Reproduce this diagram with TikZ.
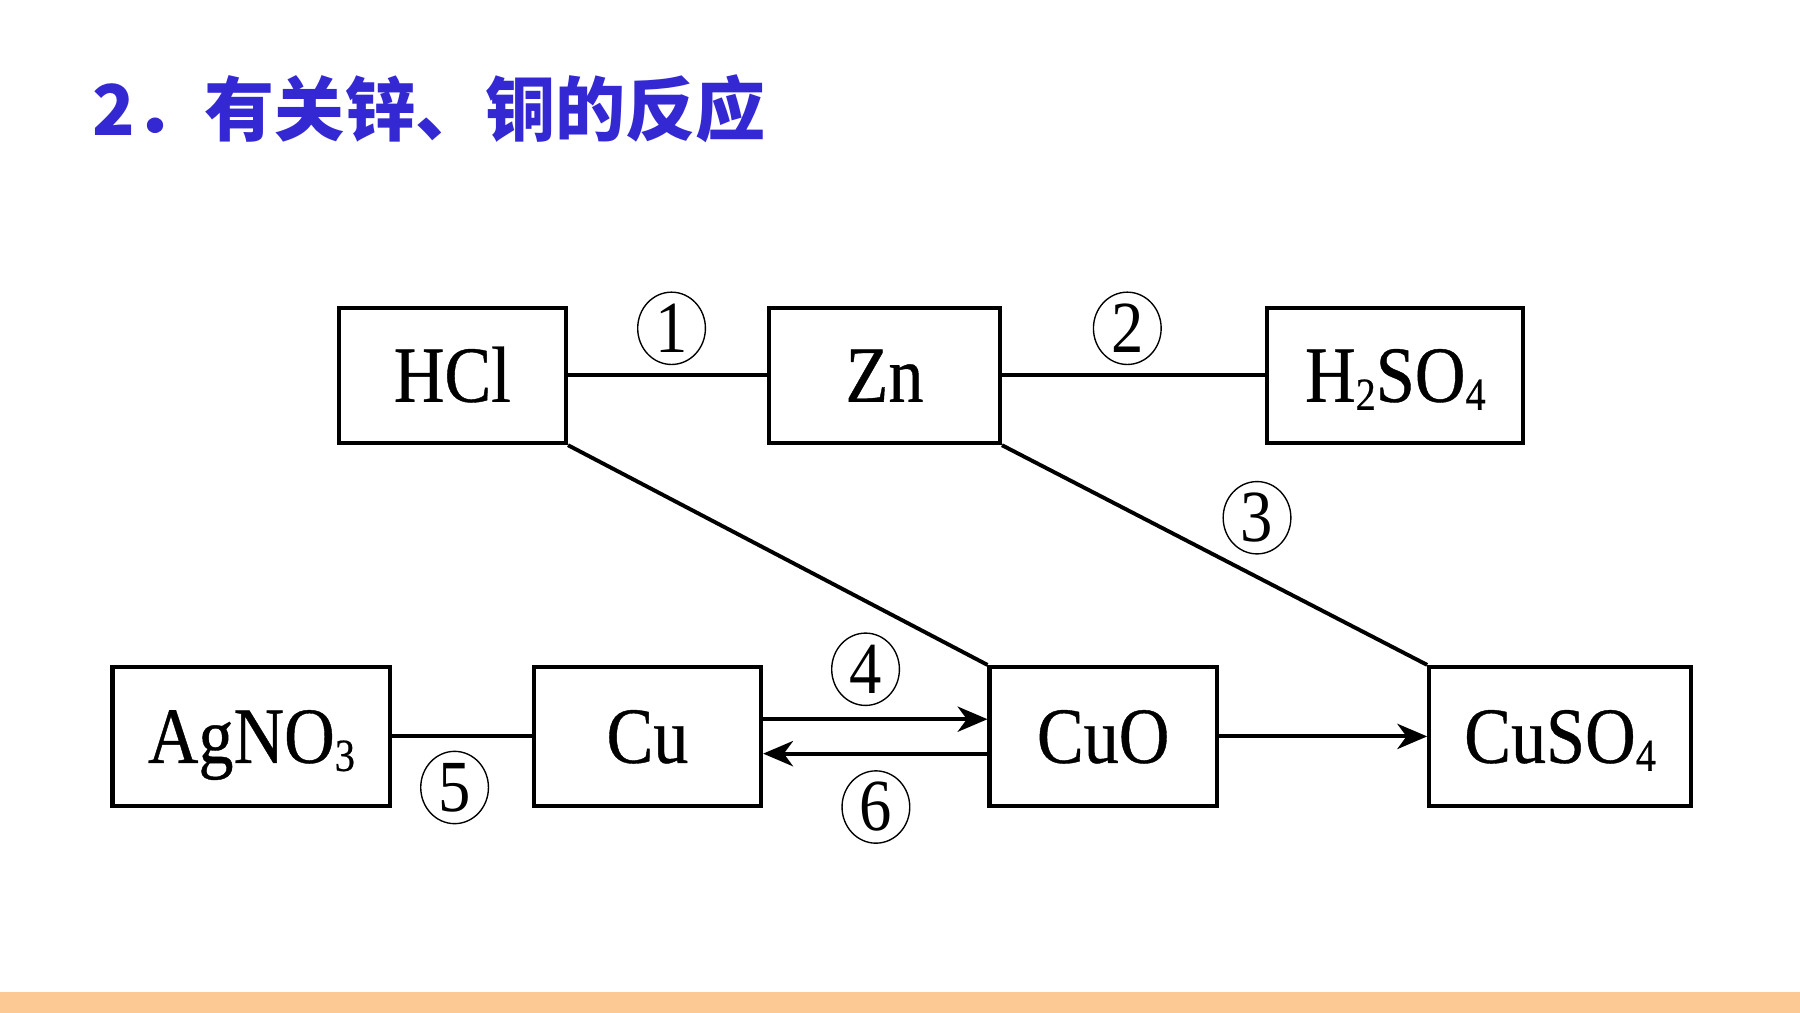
\documentclass[tikz,border=0pt]{standalone}
\usepackage{fontspec}
\usetikzlibrary{shapes.geometric,arrows.meta}
\newfontfamily\chemfont{Liberation Serif}[FakeStretch=0.88,FakeBold=0.5]
\newfontfamily\digfont{Liberation Serif}[FakeStretch=0.88]
\newfontfamily\cjkfont{Noto Sans CJK SC}
\definecolor{titleblue}{RGB}{51,40,210}
\definecolor{barorange}{RGB}{252,201,148}
\newcommand{\chsub}[1]{\raisebox{-3.5pt}{\fontsize{20pt}{20pt}\selectfont #1}}
\begin{document}
\begin{tikzpicture}[x=0.5pt,y=-0.5pt,
 box/.style={draw,line width=1.8pt,minimum height=59pt,inner sep=0pt,
   font=\chemfont\fontsize{34.7pt}{36pt}\selectfont,text height=23pt,text depth=0pt},
 lab/.style={ellipse,draw,line width=0.6pt,minimum width=29.5pt,minimum height=31.5pt,
   inner sep=0pt,font=\digfont\fontsize{32pt}{32pt}\selectfont},
 link/.style={line width=1.7pt},
 arr/.style={line width=1.7pt,-{Stealth[length=13pt,width=11pt,inset=4pt]}}]
\useasboundingbox (0,0) rectangle (1568,882);
\fill[barorange] (0,864) rectangle (1568,882);
\node[anchor=base west,text=titleblue,inner sep=0pt,
  font=\cjkfont\bfseries\fontsize{30.5pt}{30.5pt}\selectfont] (title) at (80,118) {2．有关锌、铜的反应};
% boxes
\node[box,minimum width=99pt] (hcl) at (394,327) {HCl};
\node[box,minimum width=100.5pt] (zn) at (770.5,327) {Zn};
\node[box,minimum width=111.5pt] (h2so4) at (1215.5,327) {H\chsub{2}SO\chsub{4}};
\node[box,minimum width=121pt,minimum height=60.5pt] (agno3) at (219,641.5) {AgNO\chsub{3}};
\node[box,minimum width=99pt,minimum height=60.5pt] (cu) at (564,641.5) {Cu};
\node[box,minimum width=99pt,minimum height=60.5pt] (cuo) at (961,641.5) {CuO};
\node[box,minimum width=114pt,minimum height=60.5pt] (cuso4) at (1359,641.5) {CuSO\chsub{4}};
% connectors
\draw[link] (hcl.east) -- (zn.west);
\draw[link] (zn.east) -- (h2so4.west);
\draw[link] (hcl.south east) -- (cuo.north west);
\draw[link] (zn.south east) -- (cuso4.north west);
\draw[link] (agno3.east) -- (cu.west);
\draw[arr] ([yshift=7.5pt]cu.east) -- ([yshift=7.5pt]cuo.west);
\draw[arr] ([yshift=-7.5pt]cuo.west) -- ([yshift=-7.5pt]cu.east);
\draw[arr] (cuo.east) -- (cuso4.west);
% labels
\node[lab] (l1) at (585,286) {1};
\node[lab] (l2) at (982,286) {2};
\node[lab] (l3) at (1095,451) {3};
\node[lab] (l4) at (754,583) {4};
\node[lab] (l5) at (396,686) {5};
\node[lab] (l6) at (763,703) {6};
\end{tikzpicture}
\end{document}
